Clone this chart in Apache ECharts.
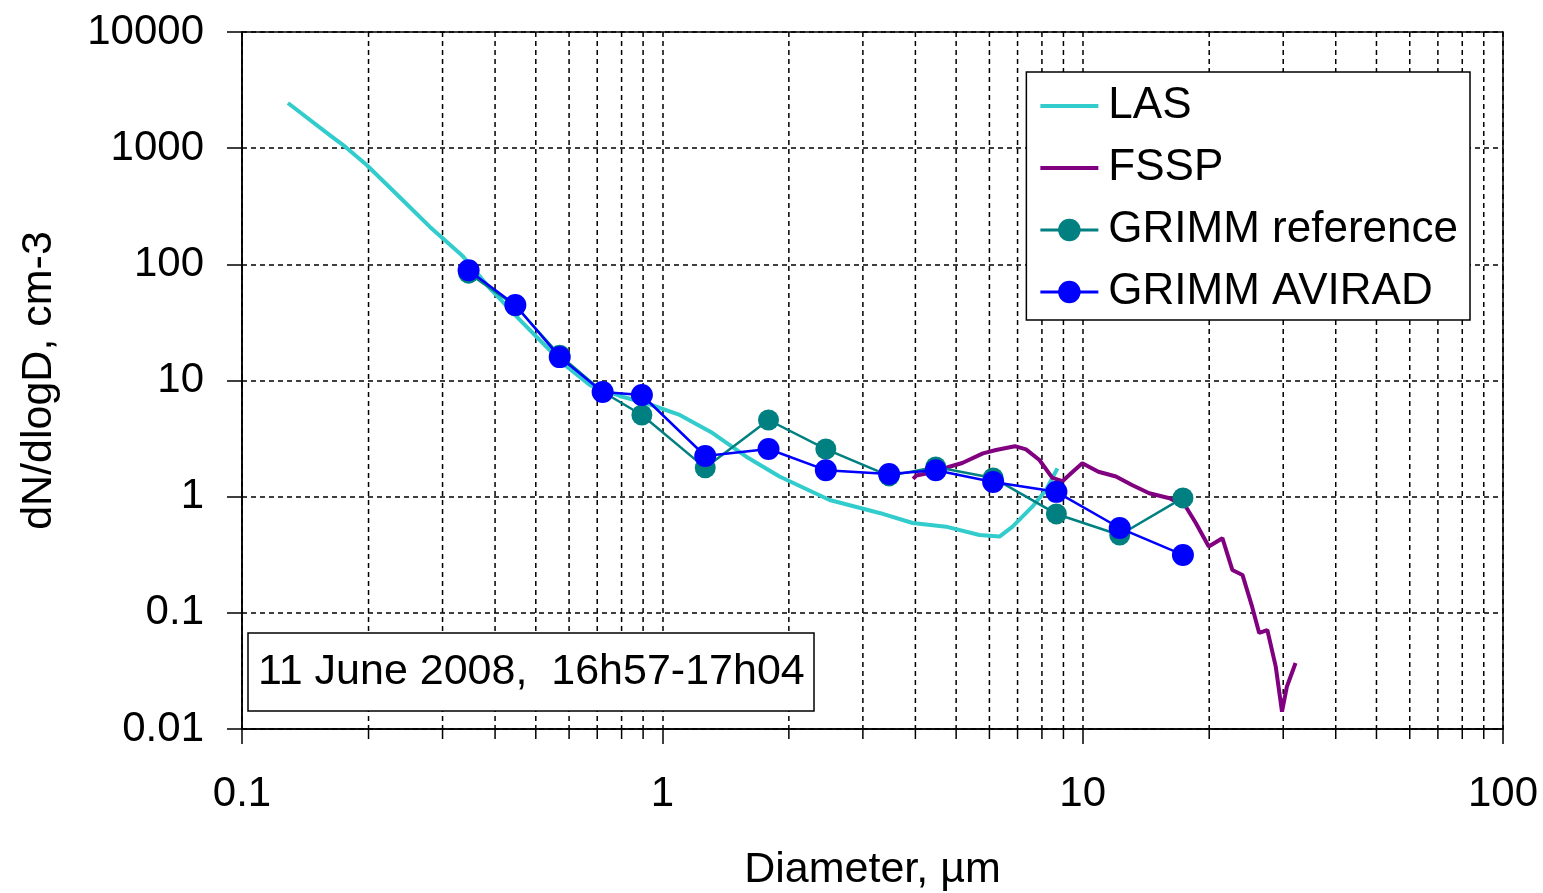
<!DOCTYPE html>
<html><head><meta charset="utf-8">
<script src="https://cdn.jsdelivr.net/npm/echarts@6/dist/echarts.min.js"></script>
<style>html,body{margin:0;padding:0;background:#fff}#c{width:1543px;height:893px}</style>
</head><body><div id="c"></div>
<script>
// ---- axis settings / tick labels ----
const xMin = 0.1, xMax = 100;
const yMin = 0.01, yMax = 10000;
const xTickLabels = ['0.1', '1', '10', '100'];
const yTickLabels = ['0.01', '0.1', '1', '10', '100', '1000', '10000'];
const minorX = [0.2,0.3,0.4,0.5,0.6,0.7,0.8,0.9, 2,3,4,5,6,7,8,9, 20,30,40,50,60,70,80,90];

// ---- LAS ----
const lasD = [0.1286,0.162,0.176,0.198,0.241,0.280,0.335,0.389,0.458,0.525,0.586,0.672,0.792,0.916,1.10,1.317,1.584,1.90,2.50,3.285,3.94,4.73,5.68,6.34,6.81,7.59,8.18,8.71];
const lasV = [2448,1290,1030,716,358,210,118,62,33.2,20.2,13.6,9.14,7.36,6.37,5.05,3.53,2.21,1.49,0.936,0.724,0.593,0.552,0.468,0.453,0.552,0.82,1.14,1.75];

// ---- FSSP ----
const fsspD = [3.95,4.02,4.40,4.82,5.17,5.79,6.22,6.90,7.33,7.89,8.47,8.95,9.40,9.98,10.9,12.0,13.1,14.4,16.1,17.6,18.6,19.95,21.5,22.7,24.0,25.3,26.3,27.5,28.8,29.8,30.6,32.1];
const fsspV = [1.42,1.52,1.62,1.81,1.95,2.36,2.52,2.72,2.55,2.07,1.45,1.36,1.60,1.94,1.64,1.49,1.26,1.07,0.968,0.82,0.59,0.372,0.439,0.234,0.212,0.113,0.0671,0.0711,0.0344,0.0141,0.0231,0.037];

// ---- GRIMM (shared channel diameters) ----
const grimmD = [0.346,0.447,0.570,0.721,0.894,1.265,1.789,2.449,3.464,4.472,6.124,8.660,12.25,17.32];
const grimmRefV = [84,44,16.5,8.0,5.05,1.77,4.57,2.57,1.51,1.80,1.45,0.71,0.468,0.975];
const grimmAviradV = [89,44.7,15.9,7.96,7.5,2.24,2.57,1.69,1.57,1.69,1.34,1.10,0.537,0.315];

const pair = (xs, ys) => xs.map((x, i) => [x, ys[i]]);
const FONT = '"Liberation Sans", Arial, sans-serif';
const gridLine = { show: true, lineStyle: { color: '#000', width: 1.5, type: [5, 4] } };

const chart = echarts.init(document.getElementById('c'), null, { renderer: 'canvas' });
chart.setOption({
  backgroundColor: '#fff',
  animation: false,
  textStyle: { fontFamily: FONT },
  grid: { left: 242, right: 40, top: 32, bottom: 164, outerBoundsMode: 'none', containLabel: false,
    show: true, borderColor: '#000', borderWidth: 1.5, backgroundColor: 'transparent' },
  title: {
    text: '11 June 2008,  16h57-17h04',
    left: 248, top: 633,
    padding: [16, 10, 16, 10],
    borderColor: '#000', borderWidth: 1.5, backgroundColor: '#fff',
    textStyle: { fontFamily: FONT, fontSize: 43, fontWeight: 'normal', color: '#000', lineHeight: 46 }
  },
  legend: {
    orient: 'vertical',
    right: 73, top: 72,
    data: [
      { name: 'LAS', itemStyle: { opacity: 0 }, lineStyle: { width: 4 } },
      { name: 'FSSP', itemStyle: { opacity: 0 }, lineStyle: { width: 4 } },
      { name: 'GRIMM reference', lineStyle: { width: 3 } },
      { name: 'GRIMM AVIRAD', lineStyle: { width: 3 } }
    ],
    itemWidth: 58, itemHeight: 28, itemGap: 18,
    padding: [12, 12, 6, 12],
    borderColor: '#000', borderWidth: 1.5, backgroundColor: '#fff',
    textStyle: { fontFamily: FONT, fontSize: 44, color: '#000', lineHeight: 44, padding: [0, 0, 0, 5] }
  },
  xAxis: {
    type: 'log', logBase: 10, min: xMin, max: xMax,
    name: 'Diameter, µm', nameLocation: 'middle', nameGap: 120,
    nameTextStyle: { fontFamily: FONT, fontSize: 43, color: '#000' },
    axisLine: { show: true, lineStyle: { color: '#000', width: 1.5 } },
    axisTick: { show: true, length: 15, lineStyle: { color: '#000', width: 1.5 } },
    axisLabel: { margin: 44, fontFamily: FONT, fontSize: 42, color: '#000',
      formatter: v => xTickLabels[Math.round(Math.log10(v)) + 1] },
    splitLine: gridLine,
    minorTick: { show: false }, minorSplitLine: { show: false }
  },
  yAxis: {
    type: 'log', logBase: 10, min: yMin, max: yMax,
    name: 'dN/dlogD, cm-3', nameLocation: 'middle', nameGap: 181, nameRotate: 90,
    nameTextStyle: { fontFamily: FONT, fontSize: 43, color: '#000' },
    axisLine: { show: true, lineStyle: { color: '#000', width: 1.5 } },
    axisTick: { show: true, length: 15, lineStyle: { color: '#000', width: 1.5 } },
    axisLabel: { margin: 38, fontFamily: FONT, fontSize: 42, color: '#000',
      formatter: v => yTickLabels[Math.round(Math.log10(v)) + 2] },
    splitLine: gridLine
  },
  series: [
    {
      name: 'minor', type: 'custom', silent: true, z: 1, clip: false,
      data: minorX.map(v => [v, yMin]),
      encode: { x: 0, y: 1 },
      renderItem: (params, api) => {
        const top = api.coord([api.value(0), yMax]);
        const bot = api.coord([api.value(0), yMin]);
        return { type: 'group', children: [
          { type: 'line', shape: { x1: top[0], y1: top[1], x2: bot[0], y2: bot[1] },
            style: { stroke: '#000', lineWidth: 1.5, lineDash: [5, 4] } },
          { type: 'line', shape: { x1: bot[0], y1: bot[1], x2: bot[0], y2: bot[1] + 10 },
            style: { stroke: '#000', lineWidth: 1.5 } }
        ] };
      }
    },
    {
      name: 'LAS', type: 'line', data: pair(lasD, lasV), symbol: 'none', z: 3,
      lineStyle: { color: '#33CCCC', width: 4 }, itemStyle: { color: '#33CCCC' }
    },
    {
      name: 'FSSP', type: 'line', data: pair(fsspD, fsspV), symbol: 'none', z: 3,
      lineStyle: { color: '#800080', width: 4 }, itemStyle: { color: '#800080' }
    },
    {
      name: 'GRIMM reference', type: 'line', data: pair(grimmD, grimmRefV), z: 4,
      symbol: 'circle', symbolSize: 21,
      lineStyle: { color: '#008080', width: 2.5 }, itemStyle: { color: '#008080' }
    },
    {
      name: 'GRIMM AVIRAD', type: 'line', data: pair(grimmD, grimmAviradV), z: 5,
      symbol: 'circle', symbolSize: 22,
      lineStyle: { color: '#0000FF', width: 2.5 }, itemStyle: { color: '#0000FF' }
    }
  ]
});
</script>
</body></html>
